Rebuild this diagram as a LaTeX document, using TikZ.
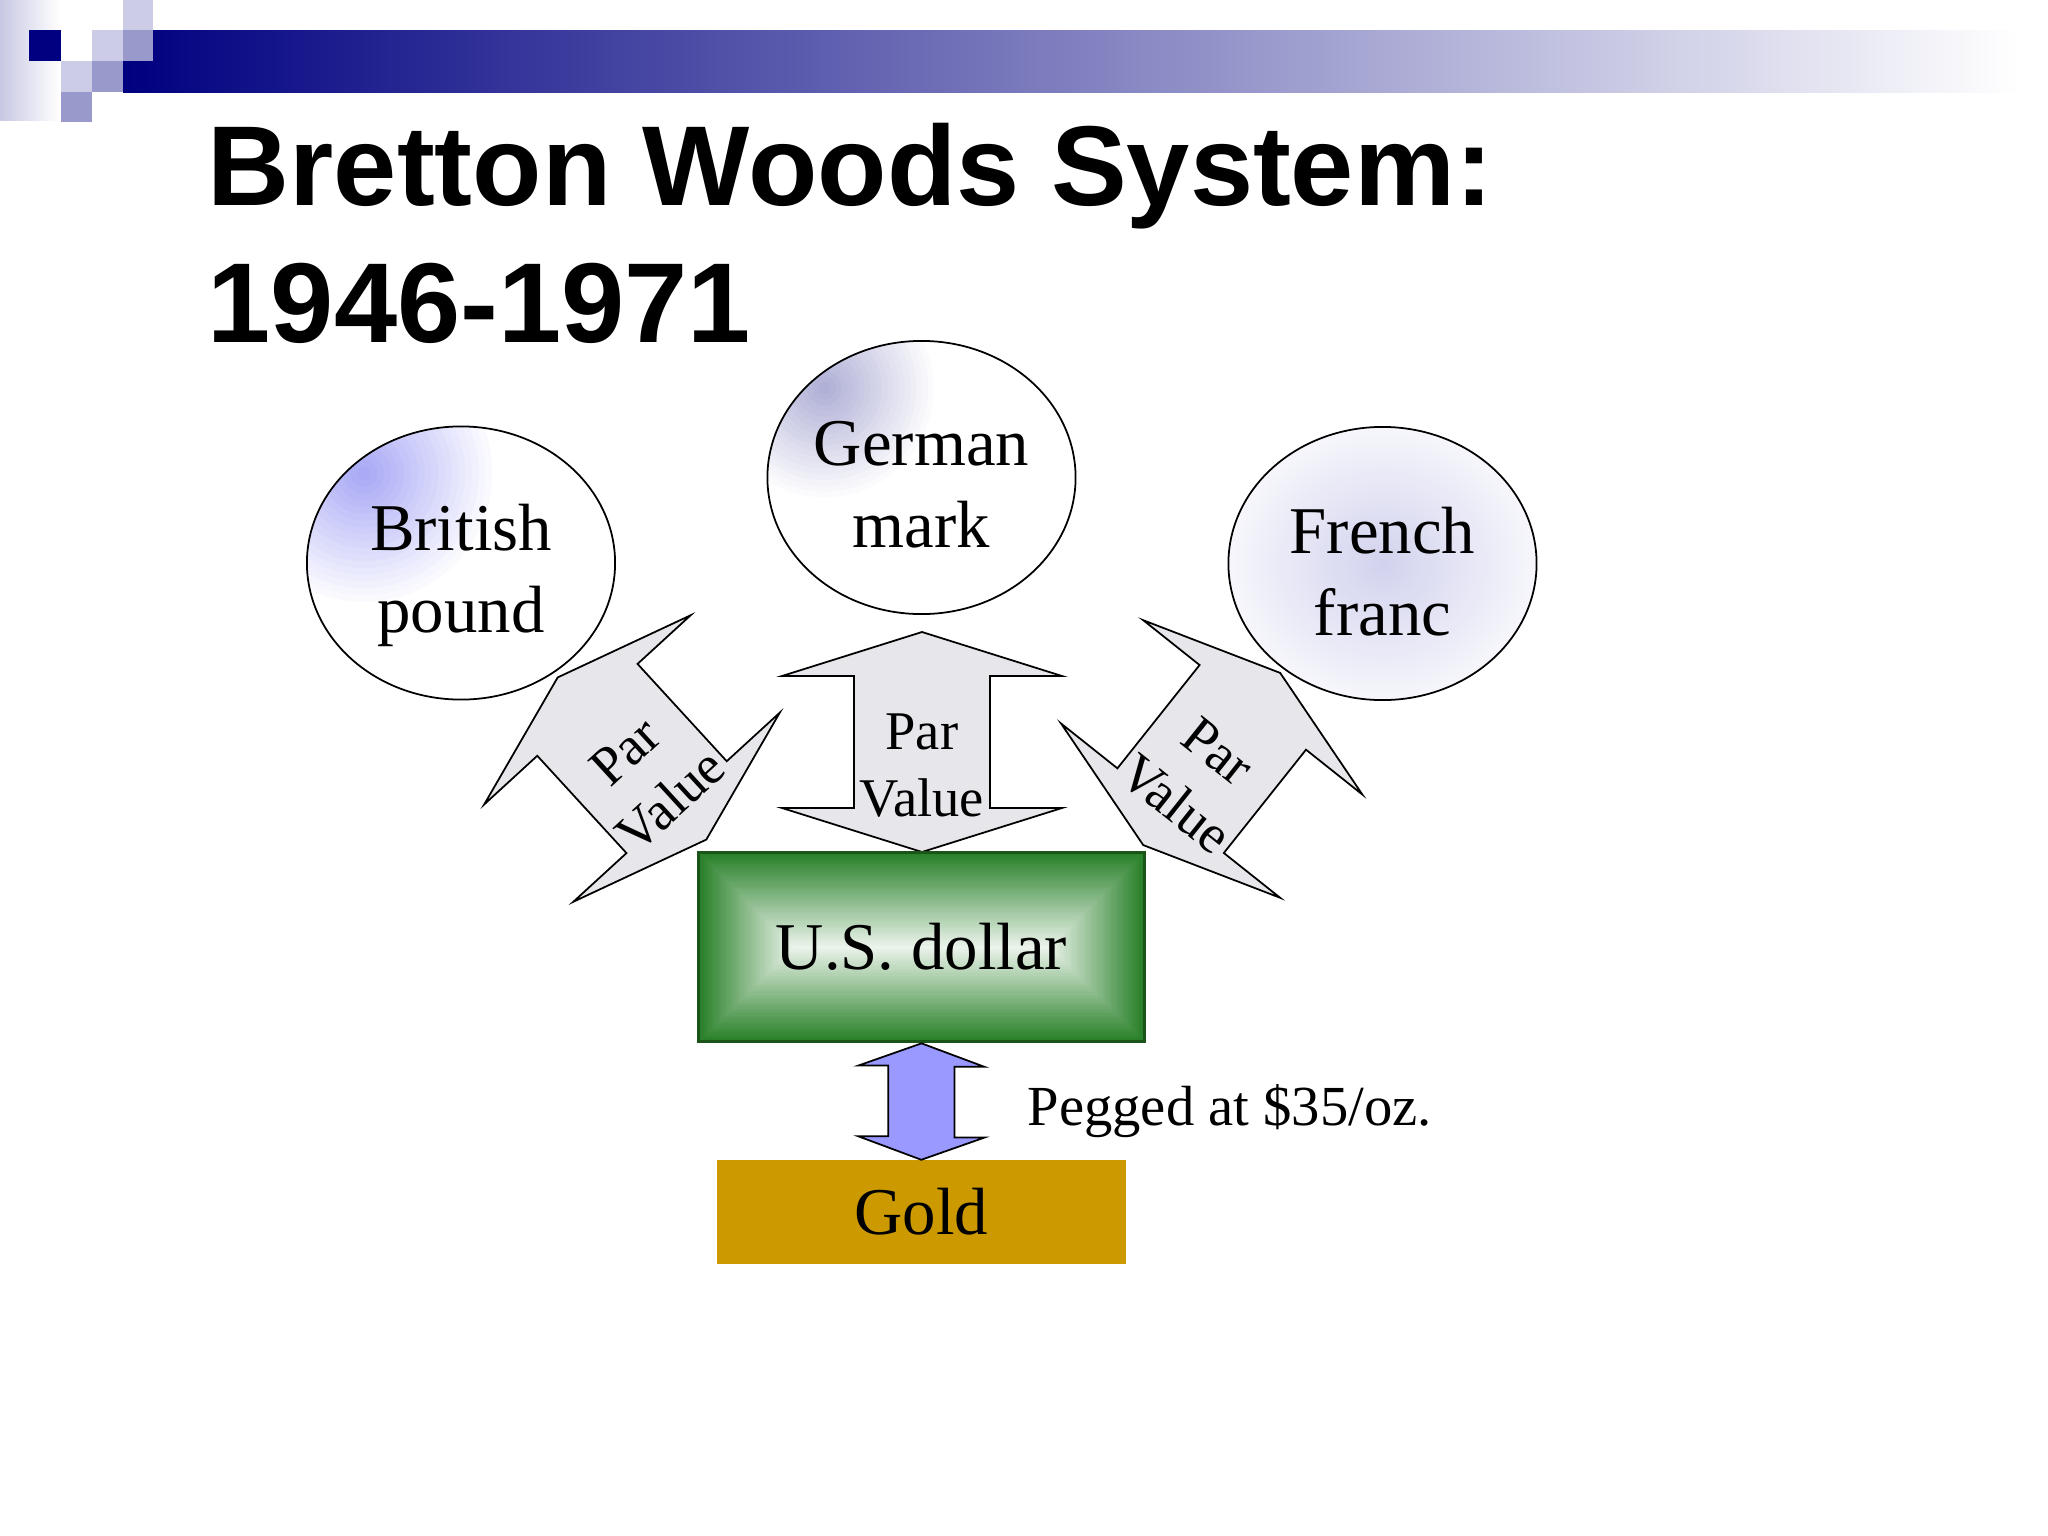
\documentclass[tikz,border=0pt]{standalone}
\usepackage{fontspec}
\setmainfont{Liberation Serif}
\newfontfamily\headfont{Liberation Sans}
\usetikzlibrary{shapes.geometric,calc}

\definecolor{navy}{RGB}{0,0,128}
\definecolor{sqlight}{RGB}{204,204,230}
\definecolor{sqmid}{RGB}{153,153,204}
\definecolor{stripcol}{RGB}{200,200,228}
\definecolor{arrowgray}{RGB}{230,230,235}
\definecolor{pegblue}{RGB}{153,153,255}
\definecolor{goldcol}{RGB}{204,153,0}
\definecolor{usgreen}{RGB}{40,128,40}
\definecolor{usedge}{RGB}{25,85,25}
\definecolor{lavpound}{RGB}{165,165,246}
\definecolor{lavmark}{RGB}{172,172,212}
\definecolor{lavfranc}{RGB}{210,210,238}

\tikzset{
  currency/.style={ellipse, draw, line width=0.5pt, fill=white,
    minimum width=3.08cm, minimum height=2.73cm, inner sep=0pt},
  curtext/.style={align=center, inner sep=0pt,
    font=\fontsize{19}{23.3}\selectfont},
  glow/.style 2 args={path picture={
    \foreach \i [evaluate=\i as \p using 5*\i,
                 evaluate=\i as \r using #2*(1-\i/20)] in {0,...,19}
      \fill[#1!\p!white]
        ($(path picture bounding box.north west)+(0.57cm,-0.47cm)$)
        circle[radius=\r cm];}},
  midglow/.style={path picture={\shade[inner color=#1, outer color=white]
    (path picture bounding box.center) ellipse[x radius=1.9cm, y radius=1.7cm];}},
  usbox/.style={draw=usedge, line width=0.9pt, minimum width=4.45cm,
    minimum height=1.89cm, inner sep=0pt, font=\fontsize{19}{23}\selectfont,
    path picture={
      \foreach \i [evaluate=\i as \p using 100-2.3*\i] in {0,...,40}
        \fill[usgreen!\p!white]
          ($(path picture bounding box.south west)+(\i*0.0236cm,\i*0.0236cm)$)
          rectangle
          ($(path picture bounding box.north east)-(\i*0.0236cm,\i*0.0236cm)$);}},
  goldbox/.style={fill=goldcol, minimum width=4.09cm, minimum height=1.03cm,
    inner sep=0pt, font=\fontsize{19}{23}\selectfont},
  parshape/.style={draw, line width=0.5pt, fill=arrowgray},
  pegshape/.style={draw, line width=0.5pt, fill=pegblue},
  partext/.style={align=center, inner sep=0pt, transform shape,
    font=\fontsize{15.5}{19.06}\selectfont},
  pics/pararrow/.style={code={
    \draw[parshape] (0,110) -- (140,66) -- (68,66) -- (68,-66) -- (140,-66)
      -- (0,-110) -- (-140,-66) -- (-68,-66) -- (-68,66) -- (-140,66) -- cycle;
    \node[partext] (-txt) at (0,-24) {Par\\Value};
  }}
}

\begin{document}
\begin{tikzpicture}[x=0.01cm, y=0.01cm]
  \useasboundingbox (0,0) rectangle (2048,-1536);

  % top band
  \shade[left color=stripcol, right color=white] (0,0) rectangle (60,-120);
  \shade[left color=navy, right color=white] (123,-30) rectangle (2020,-92);
  \fill[navy] (29,-30) rectangle (61,-61);
  \fill[sqlight] (123,0) rectangle (153,-30);
  \fill[sqlight] (92,-30) rectangle (123,-61);
  \fill[sqmid] (123,-30) rectangle (153,-61);
  \fill[sqlight] (61,-61) rectangle (92,-92);
  \fill[sqmid] (92,-61) rectangle (123,-92);
  \fill[sqmid] (61,-92) rectangle (92,-122);

  \node[anchor=base west, inner sep=0pt,
    font=\headfont\bfseries\fontsize{32.3}{38}\selectfont] (title) at (207,-205)
    {Bretton Woods System:};
  \node[anchor=base west, inner sep=0pt,
    font=\headfont\bfseries\fontsize{32.3}{38}\selectfont] (years) at (207,-342)
    {1946-1971};

  % currencies
  \node[currency, glow={lavpound}{1.35}] (pound) at (461,-563) {};
  \node[currency, glow={lavmark}{1.15}] (mark) at (921.5,-477.5) {};
  \node[currency, midglow=lavfranc] (franc) at (1382.5,-563.5) {};
  \node[curtext] (poundtxt) at ($(pound)+(0,-12)$) {British\\pound};
  \node[curtext] (marktxt) at ($(mark)+(0,-7)$) {German\\mark};
  \node[curtext] (franctxt) at ($(franc)+(0,-8)$) {French\\franc};

  % par value arrows
  \pic[rotate=42.5] (lpar) at (632,-758.5) {pararrow};
  \pic (cpar) at (922,-742) {pararrow};
  \pic[rotate=-38.5] (rpar) at (1211.7,-759) {pararrow};

  \node[usbox] (dollar) at (921.5,-947.2) {U.S. dollar};
  \node[goldbox] (gold) at (921.3,-1212) {Gold};

  \draw[pegshape] (dollar.south) -- ++(63,-23.5) -- ++(-30,0) -- ++(0,-70.7)
    -- ++(30,0) -- (gold.north) -- ++(-63,23.5) -- ++(30,0) -- ++(0,70.7)
    -- ++(-30,0) -- cycle;
  \node[anchor=base west, inner sep=0pt, font=\fontsize{16.1}{19}\selectfont]
    (peg) at (1027,-1125) {Pegged at \$35/oz.};
\end{tikzpicture}
\end{document}
